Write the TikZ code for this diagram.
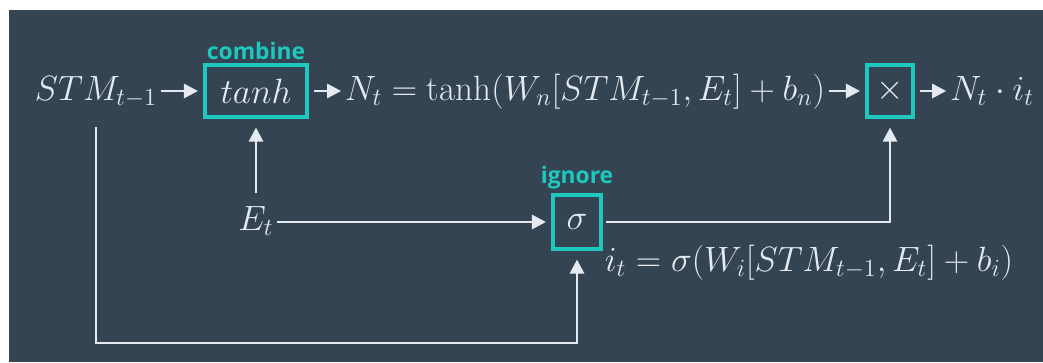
\RequirePackage{fix-cm}
\documentclass[tikz,border=0pt]{standalone}
\usepackage{fontspec}
\usepackage{amsmath}
\usepackage{tikz}
\usetikzlibrary{arrows.meta,positioning}
\newfontfamily\gatefont{Open Sans}
\definecolor{SlateBg}{RGB}{52,68,82}
\definecolor{GateTeal}{RGB}{30,200,190}
\definecolor{WireWhite}{RGB}{228,234,240}
\tikzset{
  gatebox/.style={draw=GateTeal, line width=2pt, inner sep=0pt, text=WireWhite, font=\fontsize{20}{24}\selectfont},
  gatename/.style={text=GateTeal, font=\gatefont\bfseries\fontsize{13}{15}\selectfont, inner sep=1pt},
  mathtext/.style={text=WireWhite, inner sep=2pt, anchor=base, font=\fontsize{20}{24}\selectfont},
  wire/.style={draw=WireWhite, line width=1.6pt, -{Triangle[length=8pt,width=8pt]}},
}

\begin{document}
\begin{tikzpicture}[x=0.02cm,y=-0.02cm]
\useasboundingbox (0,0) rectangle (1043,362);
\fill[white] (0,0) rectangle (1043,362);
\fill[SlateBg] (9,10) rectangle (1043,362);

% top row
\node[mathtext] (stm) at (96,100) {$STM_{t-1}$};
\node[gatebox, minimum width=2.04cm, minimum height=1.04cm] (tanh) at (256,91) {$tanh$};
\node[gatename, above=1pt of tanh] (combine) {combine};
\node[mathtext] (newinfo) at (585,100) {$N_t = \tanh(W_n[STM_{t-1}, E_t] + b_n)$};
\node[gatebox, minimum width=0.92cm, minimum height=1.04cm] (mult) at (890,91) {$\times$};
\node[mathtext] (out) at (992,100) {$N_t \cdot i_t$};

% bottom row
\node[mathtext] (et) at (256,230) {$E_t$};
\node[gatebox, minimum width=0.96cm, minimum height=1.08cm] (sig) at (577,222) {$\sigma$};
\node[gatename, above=1pt of sig] (ignore) {ignore};
\node[mathtext] (gate) at (809,271) {$i_t = \sigma(W_i[STM_{t-1}, E_t] + b_i)$};
\coordinate (low) at (300,343);

\draw[wire, shorten >=3pt] (stm.east |- tanh.west) -- (tanh.west);
\draw[wire, shorten <=3pt] (tanh.east) -- (newinfo.west |- tanh.east);
\draw[wire, shorten >=3pt] (newinfo.east |- mult.west) -- (mult.west);
\draw[wire, shorten <=3pt] (mult.east) -- (out.west |- mult.east);
\draw[wire, shorten <=5pt, shorten >=5pt] (et.north) -- (tanh.south);
\draw[wire, shorten >=3pt] (et.east |- sig.west) -- (sig.west);
\draw[wire, shorten <=2pt, shorten >=5pt] (sig.east) -| (mult.south);
\draw[wire, shorten <=9pt, shorten >=5pt] (stm.south) |- (low) -| (sig.south);
\end{tikzpicture}
\end{document}
